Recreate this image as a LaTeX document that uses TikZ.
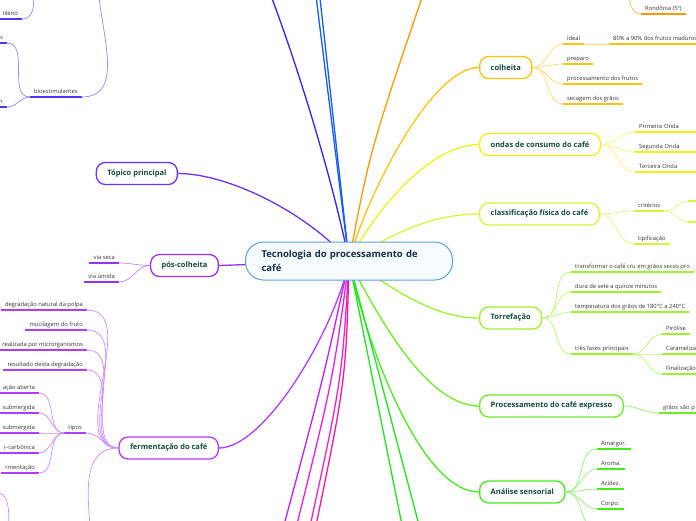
\documentclass[tikz,border=0pt]{standalone}
\usepackage{fontspec}
\setmainfont{Open Sans}
\usetikzlibrary{backgrounds}
\definecolor{topgreen}{RGB}{20,75,60}
\definecolor{subgray}{RGB}{50,50,50}
\definecolor{corenavy}{RGB}{25,45,75}
\definecolor{coreblue}{RGB}{90,160,215}
\definecolor{corefill}{RGB}{246,251,255}
\definecolor{colgold}{RGB}{255,194,14}
\definecolor{ondyel}{RGB}{240,240,25}
\definecolor{clsgreen}{RGB}{212,245,60}
\definecolor{torgreen}{RGB}{160,240,50}
\definecolor{expgreen}{RGB}{110,235,40}
\definecolor{anagreen}{RGB}{70,235,30}
\definecolor{offgreen}{RGB}{30,230,30}
\definecolor{rondorange}{RGB}{255,153,0}
\definecolor{darkblue}{RGB}{51,34,238}
\definecolor{brightblue}{RGB}{20,90,255}
\definecolor{topviolet}{RGB}{102,51,255}
\definecolor{bioblue}{RGB}{85,51,255}
\definecolor{posviolet}{RGB}{150,50,240}
\definecolor{ferviolet}{RGB}{175,60,255}
\definecolor{magA}{RGB}{190,30,255}
\definecolor{magB}{RGB}{230,30,230}
\definecolor{magC}{RGB}{255,30,200}
\definecolor{magD}{RGB}{255,20,150}

\begin{document}
\begin{tikzpicture}[x=1pt,y=-1pt,
    topic/.style={draw=#1,line width=1.3pt,fill=white,rounded corners=9pt,
                  minimum height=22pt,inner xsep=11pt,
                  font=\bfseries\fontsize{7.5}{9}\selectfont,text=topgreen},
    sub/.style={font=\fontsize{5.8}{7}\selectfont,text=subgray,
                inner xsep=4pt,inner ysep=2.4pt,text height=4.2pt,text depth=1.2pt,
                append after command={(\tikzlastnode.south west)
                  edge[draw=#1,line width=2pt] (\tikzlastnode.south east)}},
    con/.style={draw=#1,line width=0.7pt},
    trunk/.style={draw=#1,line width=1.3pt}
]
  \useasboundingbox (0,0) rectangle (696,520);
  \clip (0,0) rectangle (696,520);

  % Central topic
  \node[draw=coreblue,fill=corefill,line width=1pt,rounded corners=18pt,
        text width=175pt,inner xsep=16pt,minimum height=38pt,align=left,anchor=west,
        font=\bfseries\fontsize{9.5}{14}\selectfont,text=corenavy]
        (core) at (245,261) {Tecnologia do processamento de\\café};

  % Right topics
  \node[topic=colgold,anchor=west] (colh) at (479,67.5) {colheita};
  \node[topic=ondyel,anchor=west] (ondas) at (479,144.5) {ondas de consumo do café};
  \node[topic=clsgreen,anchor=west] (clas) at (479,214) {classificação física do café};
  \node[topic=torgreen,anchor=west] (torr) at (479,318) {Torrefação};
  \node[topic=expgreen,anchor=west] (expr) at (479,406) {Processamento do café expresso};
  \node[topic=anagreen,anchor=west] (anal) at (479,492) {Análise sensorial};

  % Left topics
  \node[topic=topviolet,anchor=east] (topi) at (178,173.5) {Tópico principal};
  \node[topic=posviolet,anchor=east] (posc) at (219,265.5) {pós-colheita};
  \node[topic=ferviolet,anchor=east] (ferm) at (219,448) {fermentação do café};

  % Off-picture ends
  \coordinate (upblue) at (265,-20);
  \coordinate (upbrA) at (314,-20);
  \coordinate (upbrB) at (318,-20);
  \coordinate (uporange) at (428,-20);
  \coordinate (dngreenA) at (405,540);
  \coordinate (dngreenB) at (423,540);
  \coordinate (dnmagA) at (280,540);
  \coordinate (dnmagB) at (293,540);
  \coordinate (dnmagC) at (307,540);
  \coordinate (dnmagD) at (313,540);
  \coordinate (rondup) at (629,-10);
  \coordinate (bioup) at (98,-20);
  \coordinate (tilup) at (33,-20);
  \coordinate (fermdn) at (92,560);
  \coordinate (ana5) at (597,529);
  \coordinate (lowa) at (-6,492);
  \coordinate (lowb) at (8,540);

  % Trunks
  \begin{scope}[on background layer]
    \clip (0,0) rectangle (696,520);
    \draw[trunk=darkblue] (core.center) .. controls (335,190) and (300,70) .. (upblue);
    \draw[trunk=brightblue] (core.center) -- (upbrA);
    \draw[trunk=brightblue] (core.center) -- (upbrB);
    \draw[trunk=rondorange] (core.center) .. controls (370,150) .. (uporange);
    \draw[trunk=colgold] (core.center) .. controls (365,200) and (430,67.5) .. (colh.west);
    \draw[trunk=ondyel] (core.center) .. controls (375,210) and (430,144.5) .. (ondas.west);
    \draw[trunk=clsgreen] (core.center) .. controls (390,235) and (430,214) .. (clas.west);
    \draw[trunk=torgreen] (core.center) .. controls (390,285) and (430,318) .. (torr.west);
    \draw[trunk=expgreen] (core.center) .. controls (375,310) and (425,406) .. (expr.west);
    \draw[trunk=anagreen] (core.center) .. controls (365,340) and (420,492) .. (anal.west);
    \draw[trunk=offgreen] (core.center) -- (dngreenA);
    \draw[trunk=offgreen] (core.center) -- (dngreenB);
    \draw[trunk=magA] (core.center) .. controls (323,380) .. (dnmagA);
    \draw[trunk=magB] (core.center) .. controls (333,380) .. (dnmagB);
    \draw[trunk=magC] (core.center) .. controls (342,380) .. (dnmagC);
    \draw[trunk=magD] (core.center) .. controls (346,380) .. (dnmagD);
    \draw[trunk=ferviolet] (core.center) .. controls (335,330) and (265,448) .. (ferm.east);
    \draw[trunk=posviolet] (core.center) -- (posc.east);
    \draw[trunk=topviolet] (core.center) .. controls (310,215) and (230,173.5) .. (topi.east);
  \end{scope}

  % colheita
  \node[sub=rondorange,anchor=south west] (rond) at (641,14) {Rondônia (5º)};
  \node[sub=colgold,anchor=south west] (ideal) at (563,44) {ideal};
  \node[sub=colgold,anchor=south west] (pct) at (609,44) {80\% a 90\% dos frutos maduros};
  \node[sub=colgold,anchor=south west] (prep) at (563,64) {preparo};
  \node[sub=colgold,anchor=south west] (procf) at (563,84) {processamento dos frutos};
  \node[sub=colgold,anchor=south west] (secag) at (563,104) {secagem dos grãos};
  \draw[con=rondorange!70] (rondup) to[out=-90,in=180] (rond.south west);
  \foreach \k in {ideal,prep,procf,secag}
    \draw[con=colgold!60] (colh.east) to[out=0,in=180] (\k.south west);
  \draw[con=colgold!60] (ideal.south east) -- (pct.south west);

  % ondas de consumo
  \node[sub=ondyel,anchor=south west,text width=60pt] (prim) at (635,132) {Primeira Onda};
  \node[sub=ondyel,anchor=south west,text width=60pt] (segu) at (635,152) {Segunda Onda};
  \node[sub=ondyel,anchor=south west,text width=60pt] (terc) at (635,172) {Terceira Onda};
  \foreach \k in {prim,segu,terc}
    \draw[con=ondyel!60] (ondas.east) to[out=0,in=180] (\k.south west);

  % classificacao
  \node[sub=clsgreen,anchor=south west] (crit) at (634,211) {critérios};
  \node[sub=clsgreen,anchor=south west] (tipf) at (634,244) {tipificação};
  \node[sub=clsgreen,anchor=south west,text width=12pt] (critA) at (688,201) {};
  \node[sub=clsgreen,anchor=south west,text width=12pt] (critB) at (688,222) {};
  \foreach \k in {crit,tipf}
    \draw[con=clsgreen!70] (clas.east) to[out=0,in=180] (\k.south west);
  \foreach \k in {critA,critB}
    \draw[con=clsgreen!70] (crit.south east) to[out=0,in=180] (\k.south west);

  % torrefacao
  \node[sub=torgreen,anchor=south west] (trans) at (571,272) {transformar o café cru em grãos secos pro};
  \node[sub=torgreen,anchor=south west] (dura) at (571,292) {dura de sete a quinze minutos};
  \node[sub=torgreen,anchor=south west] (temp) at (571,312) {temperatura dos grãos de 180°C a 240°C};
  \node[sub=torgreen,anchor=south west] (tres) at (571,354) {três fases principais};
  \node[sub=torgreen,anchor=south west] (piro) at (662,334) {Pirólise};
  \node[sub=torgreen,anchor=south west,text width=40pt] (cara) at (662,354) {Caramelização};
  \node[sub=torgreen,anchor=south west,text width=40pt] (fina) at (662,374) {Finalização};
  \foreach \k in {trans,dura,temp,tres}
    \draw[con=torgreen!70] (torr.east) to[out=0,in=180] (\k.south west);
  \foreach \k in {piro,cara,fina}
    \draw[con=torgreen!70] (tres.south east) to[out=0,in=180] (\k.south west);

  % expresso
  \node[sub=expgreen,anchor=south west,text width=40pt] (grao) at (659,413) {grãos são p};
  \draw[con=expgreen!70] (expr.east) to[out=0,in=180] (grao.south west);

  % analise sensorial
  \node[sub=anagreen,anchor=south west] (amar) at (597,449) {Amargor.};
  \node[sub=anagreen,anchor=south west] (arom) at (597,469) {Aroma.};
  \node[sub=anagreen,anchor=south west] (acid) at (597,489) {Acidez.};
  \node[sub=anagreen,anchor=south west] (corp) at (597,509) {Corpo.};
  \foreach \k in {amar,arom,acid,corp}
    \draw[con=anagreen!60] (anal.east) to[out=0,in=180] (\k.south west);
  \draw[con=anagreen!60] (anal.east) to[out=0,in=180] (ana5);

  % pos-colheita
  \node[sub=posviolet,anchor=south east] (seca) at (119,263) {via seca};
  \node[sub=posviolet,anchor=south east] (umid) at (119,282) {via úmida};
  \foreach \k in {seca,umid}
    \draw[con=posviolet!60] (posc.west) to[out=180,in=0] (\k.south east);

  % fermentacao
  \node[sub=ferviolet,anchor=south east] (degr) at (87,310) {degradação natural da polpa};
  \node[sub=ferviolet,anchor=south east] (muci) at (87,330) {mucilagem do fruto};
  \node[sub=ferviolet,anchor=south east] (real) at (87,350) {realizada por microrganismos};
  \node[sub=ferviolet,anchor=south east] (resu) at (87,370) {resultado desta degradação};
  \node[sub=ferviolet,anchor=south east] (tipo) at (86,433) {tipos};
  \node[sub=ferviolet,anchor=south east] (tipA) at (39,393) {ação aberta};
  \node[sub=ferviolet,anchor=south east] (tipB) at (39,413) {submergida};
  \node[sub=ferviolet,anchor=south east] (tipC) at (39,433) {submergida};
  \node[sub=ferviolet,anchor=south east] (tipD) at (39,453) {i–carbônica};
  \node[sub=ferviolet,anchor=south east] (tipE) at (39,473) {rmentação};
  \foreach \k in {degr,muci,real,resu,tipo}
    \draw[con=ferviolet!60] (ferm.west) to[out=180,in=0] (\k.south east);
  \draw[con=ferviolet!60] (ferm.west) to[out=180,in=90] (fermdn);
  \foreach \k in {tipA,tipB,tipC,tipD,tipE}
    \draw[con=ferviolet!60] (tipo.south west) to[out=180,in=0] (\k.south east);
  \draw[con=ferviolet!60] (lowa) to[out=0,in=90] (lowb);

  % bioestimulantes
  \node[sub=bioblue,anchor=south west] (bios) at (30,97) {bioestimulantes};
  \node[sub=bioblue,anchor=south east] (biA) at (7,43) {s};
  \node[sub=bioblue,anchor=south east] (biB) at (7,107) {n};
  \node[sub=bioblue,anchor=south east] (etil) at (22,19) {tileno};
  \draw[con=bioblue!60] (bios.south east) to[out=0,in=-90] (bioup);
  \foreach \k in {biA,biB}
    \draw[con=bioblue!60] (bios.south west) to[out=180,in=0] (\k.south east);
  \draw[con=bioblue!60] (etil.south east) to[out=0,in=-90] (tilup);
\end{tikzpicture}
\end{document}
